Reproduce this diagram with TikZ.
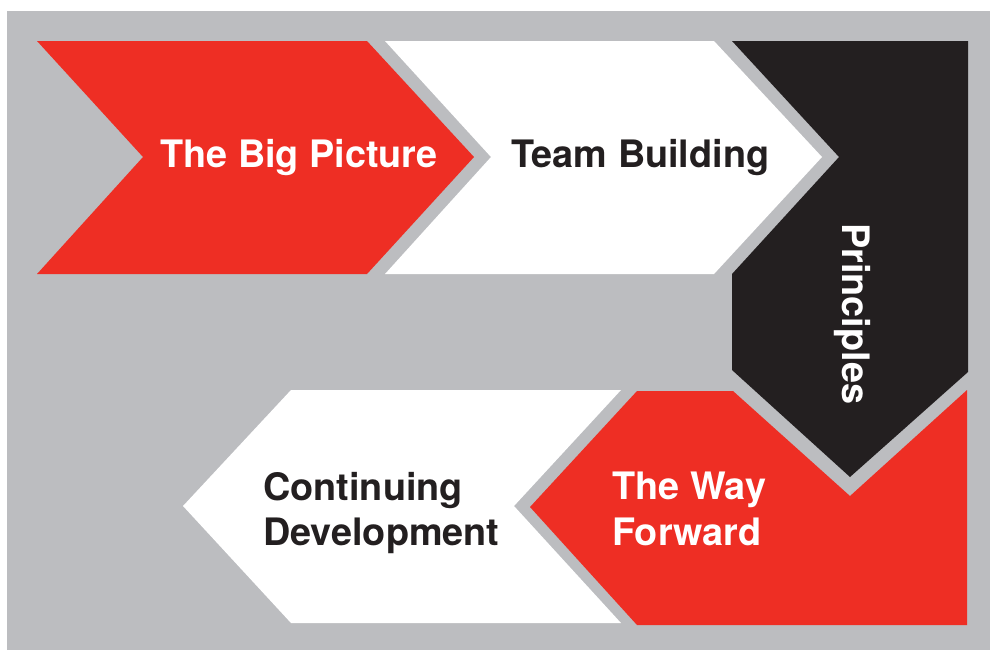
\documentclass[tikz,border=0pt]{standalone}
\usepackage{fontspec}
\setmainfont{TeX Gyre Heros}
\definecolor{bgGray}{RGB}{188,189,192}
\definecolor{stepRed}{RGB}{238,46,36}
\definecolor{stepBlack}{RGB}{35,31,32}
\begin{document}
\begin{tikzpicture}[x=0.5pt,y=-0.5pt,
  lbl/.style={anchor=base west, inner sep=0pt, font=\bfseries\fontsize{18.9pt}{23pt}\selectfont},
  lightlbl/.style={lbl, text=white},
  darklbl/.style={lbl, text=stepBlack}]
\useasboundingbox (0,0) rectangle (990,650);
\fill[white] (0,0) rectangle (990,650);
\fill[bgGray] (7,11) rectangle (990,650);
% shapes
\fill[stepRed] (37,41) -- (367,41) -- (474,157) -- (367,274) -- (37,274) -- (143,157) -- cycle;
\fill[white] (385,41) -- (714,41) -- (822,157) -- (714,274) -- (385,274) -- (491,157) -- cycle;
\fill[stepBlack] (732,41) -- (968,41) -- (968,372) -- (850,477) -- (732,370) -- (732,274) -- (839,157) -- cycle;
\fill[stepRed] (637,391) -- (733,391) -- (850,496) -- (967,390) -- (967,625) -- (637,625) -- (530,507) -- cycle;
\fill[white] (291,390) -- (621,390) -- (514,506) -- (621,623) -- (291,623) -- (183,506) -- cycle;
% labels
\node[lightlbl] (big) at (160,167) {The Big Picture};
\node[darklbl] (team) at (511,167) {Team Building};
\node[lightlbl, rotate=-90] (princ) at (842,223) {Principles};
\node[lightlbl] (way1) at (612,499) {The Way};
\node[lightlbl] (way2) at (612,545) {Forward};
\node[darklbl] (cont1) at (263,500) {Continuing};
\node[darklbl] (cont2) at (263,545) {Development};
\end{tikzpicture}
\end{document}
